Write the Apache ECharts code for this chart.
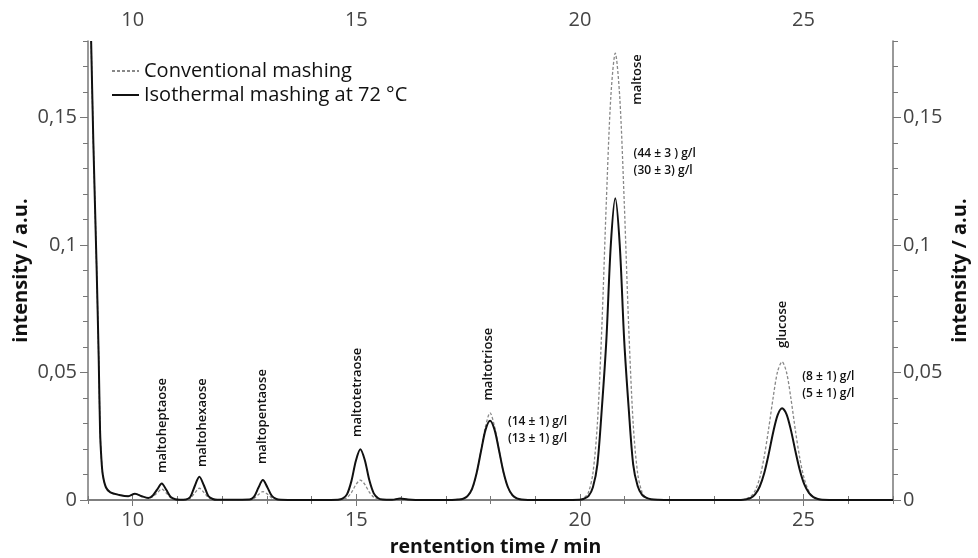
<!DOCTYPE html>
<html>
<head>
<meta charset="utf-8">
<script src="https://cdn.jsdelivr.net/npm/echarts@6/dist/echarts.min.js"></script>
<style>
  html, body { margin: 0; padding: 0; background: #fff; }
  #chart { width: 978px; height: 558px; }
</style>
</head>
<body>
<div id="chart"></div>
<script>
// retention time (min), shared by both traces
const times = [
  9.07, 9.12, 9.19, 9.24, 9.27, 9.30, 9.33, 9.40, 9.50, 9.70, 9.90, 10.05, 10.20, 10.35,
  10.45, 10.55, 10.65, 10.75, 10.85, 10.95, 11.05,
  11.19, 11.29, 11.39, 11.49, 11.59, 11.69, 11.79, 11.89, 12.20,
  12.61, 12.71, 12.81, 12.91, 13.01, 13.11, 13.21, 13.31, 13.70, 14.20,
  14.59, 14.69, 14.79, 14.89, 14.99, 15.09, 15.19, 15.29, 15.39, 15.49, 15.59,
  15.80, 15.98, 16.15, 16.50, 17.00,
  17.29, 17.39, 17.49, 17.59, 17.69, 17.79, 17.89, 17.99, 18.09, 18.19, 18.29, 18.39, 18.49, 18.59, 18.69,
  19.00, 19.60,
  19.99, 20.09, 20.19, 20.29, 20.39, 20.49, 20.59, 20.69, 20.79, 20.89, 20.99, 21.09, 21.19, 21.29, 21.39, 21.49, 21.59,
  21.75, 22.00, 23.00, 23.60,
  23.72, 23.82, 23.92, 24.02, 24.12, 24.22, 24.32, 24.42, 24.52, 24.62, 24.72, 24.82, 24.92, 25.02, 25.12, 25.22, 25.32, 25.42,
  25.80, 27.00
];
const conventional = [
  0.180, 0.140, 0.093, 0.055, 0.027, 0.016, 0.010, 0.005, 0.003, 0.002, 0.0015, 0.0025, 0.0015, 0.0008,
  0.0013, 0.0028, 0.0043, 0.0027, 0.0009, 0.0002, 0.0001,
  0.0001, 0.0007, 0.0028, 0.0046, 0.0030, 0.0010, 0.0003, 0.0001, 0.0001,
  0.0001, 0.0006, 0.0021, 0.0033, 0.0023, 0.0008, 0.0002, 0.0001, 0.0000, 0.0000,
  0.0000, 0.0002, 0.0009, 0.0029, 0.0060, 0.0078, 0.0061, 0.0031, 0.0011, 0.0003, 0.0001,
  0.0001, 0.0006, 0.0002, 0.0000, 0.0000,
  0.0002, 0.0005, 0.0015, 0.0043, 0.0104, 0.0196, 0.0290, 0.0342, 0.0288, 0.0197, 0.0108, 0.0049, 0.0018, 0.0006, 0.0002,
  0.0000, 0.0000,
  0.0002, 0.0008, 0.0030, 0.0105, 0.0300, 0.0680, 0.1170, 0.1580, 0.1752, 0.1580, 0.1170, 0.0680, 0.0300, 0.0105, 0.0030, 0.0008, 0.0002,
  0.0001, 0.0000, 0.0000, 0.0000,
  0.0005, 0.0014, 0.0038, 0.0087, 0.0170, 0.0280, 0.0402, 0.0504, 0.0542, 0.0500, 0.0395, 0.0270, 0.0160, 0.0080, 0.0034, 0.0012, 0.0004, 0.0001,
  0.0000, 0.0000
];
const isothermal = [
  0.180, 0.140, 0.093, 0.055, 0.027, 0.016, 0.010, 0.005, 0.003, 0.002, 0.0015, 0.0025, 0.0015, 0.0008,
  0.0018, 0.0042, 0.0065, 0.0040, 0.0012, 0.0003, 0.0001,
  0.0002, 0.0013, 0.0056, 0.0091, 0.0058, 0.0016, 0.0004, 0.0001, 0.0001,
  0.0002, 0.0012, 0.0048, 0.0078, 0.0050, 0.0016, 0.0004, 0.0001, 0.0000, 0.0000,
  0.0001, 0.0005, 0.0022, 0.0074, 0.0154, 0.0199, 0.0156, 0.0078, 0.0026, 0.0007, 0.0002,
  0.0001, 0.0006, 0.0002, 0.0000, 0.0000,
  0.0002, 0.0005, 0.0016, 0.0045, 0.0106, 0.0193, 0.0276, 0.0311, 0.0276, 0.0195, 0.0110, 0.0050, 0.0019, 0.0006, 0.0002,
  0.0000, 0.0000,
  0.0001, 0.0005, 0.0015, 0.0050, 0.0140, 0.0360, 0.0625, 0.1000, 0.1183, 0.1000, 0.0625, 0.0360, 0.0140, 0.0055, 0.0020, 0.0008, 0.0003,
  0.0001, 0.0000, 0.0000, 0.0000,
  0.0003, 0.0008, 0.0023, 0.0053, 0.0105, 0.0180, 0.0265, 0.0333, 0.0360, 0.0336, 0.0272, 0.0190, 0.0115, 0.0060, 0.0028, 0.0011, 0.0004, 0.0001,
  0.0000, 0.0000
];

const xTickLabels = [10, 15, 20, 25];
const yTickLabels = [0, 0.05, 0.1, 0.15];

// peak names, placed above the peaks (time, lower end of the rotated text)
const peakNames = ['maltoheptaose', 'maltohexaose', 'maltopentaose', 'maltotetraose', 'maltotriose', 'maltose', 'glucose'];
const peakNameTimes = [10.67, 11.56, 12.90, 15.02, 17.94, 21.29, 24.53];
const peakNameLevels = [0.0106, 0.0129, 0.0141, 0.0247, 0.039, 0.155, 0.0596];

// concentrations (conventional / isothermal)
const concTexts = ['(14 ± 1) g/l\n(13 ± 1) g/l', '(44 ± 3 ) g/l\n(30 ± 3) g/l', '(8 ± 1) g/l\n(5 ± 1) g/l'];
const concTimes = [18.39, 21.20, 24.97];
const concLevels = [0.0276, 0.1324, 0.0449];

const font = 'Open Sans';
const axisGrey = '#777';
const labelGrey = '#444';

function pairs(ys) {
  return times.map((t, i) => [t, ys[i]]);
}

function yFmt(v) {
  return v === 0 ? '0' : String(v).replace('.', ',');
}

let chart = echarts.init(document.getElementById('chart'));

const baseX = {
  type: 'value', min: 9, max: 27, interval: 1,
  splitLine: { show: false }
};
const baseY = {
  type: 'value', min: 0, max: 0.18, interval: 0.01,
  splitLine: { show: false }
};
const lineStyle = { color: axisGrey, width: 1.5 };

chart.setOption({
  animation: false,
  backgroundColor: '#fff',
  textStyle: { fontFamily: font },
  grid: { left: 88, right: 85, top: 41, bottom: 58, containLabel: false, outerBoundsMode: 'none' },
  legend: {
    left: 106, top: 56, orient: 'vertical',
    itemWidth: 27, itemHeight: 12, itemGap: 4,
    itemStyle: { opacity: 0 },
    textStyle: { fontSize: 20, color: '#111', fontFamily: font },
    data: ['Conventional mashing', 'Isothermal mashing at 72 °C']
  },
  xAxis: [
    Object.assign({}, baseX, {
      position: 'bottom',
      axisLine: { lineStyle: lineStyle },
      axisTick: { length: 4, lineStyle: { color: axisGrey } },
      axisLabel: { customValues: xTickLabels, fontSize: 20, color: labelGrey, margin: 10 },
      name: 'rentention time / min', nameLocation: 'middle', nameGap: 37,
      nameTextStyle: { fontSize: 19.5, fontWeight: 'bold', color: '#111', padding: [0, 0, 0, 10] }
    }),
    Object.assign({}, baseX, {
      position: 'bottom',
      axisLine: { show: false },
      axisTick: { customValues: xTickLabels, length: 6, lineStyle: { color: axisGrey } },
      axisLabel: { show: false }
    }),
    Object.assign({}, baseX, {
      position: 'top',
      axisLine: { lineStyle: lineStyle },
      axisTick: { length: 4, lineStyle: { color: axisGrey } },
      axisLabel: { customValues: xTickLabels, fontSize: 20, color: labelGrey, margin: 11 }
    }),
    Object.assign({}, baseX, {
      position: 'top',
      axisLine: { show: false },
      axisTick: { customValues: xTickLabels, length: 6, lineStyle: { color: axisGrey } },
      axisLabel: { show: false }
    })
  ],
  yAxis: [
    Object.assign({}, baseY, {
      position: 'left',
      axisLine: { show: true, lineStyle: lineStyle },
      axisTick: { show: true, length: 5, lineStyle: { color: axisGrey } },
      axisLabel: { customValues: yTickLabels, formatter: yFmt, fontSize: 20, color: labelGrey, margin: 11 },
      name: 'intensity / a.u.', nameLocation: 'middle', nameGap: 57, nameMoveOverlap: false,
      nameTextStyle: { fontSize: 20, fontWeight: 'bold', color: '#111' }
    }),
    Object.assign({}, baseY, {
      position: 'left',
      axisLine: { show: false },
      axisTick: { show: true, customValues: yTickLabels, length: 8, lineStyle: { color: axisGrey } },
      axisLabel: { show: false }
    }),
    Object.assign({}, baseY, {
      position: 'right',
      axisLine: { show: true, lineStyle: lineStyle },
      axisTick: { show: true, length: 5, lineStyle: { color: axisGrey } },
      axisLabel: { customValues: yTickLabels, formatter: yFmt, fontSize: 20, color: labelGrey, margin: 10 },
      name: 'intensity / a.u.', nameLocation: 'middle', nameGap: 57, nameRotate: 90, nameMoveOverlap: false,
      nameTextStyle: { fontSize: 20, fontWeight: 'bold', color: '#111' }
    }),
    Object.assign({}, baseY, {
      position: 'right',
      axisLine: { show: false },
      axisTick: { show: true, customValues: yTickLabels, length: 8, lineStyle: { color: axisGrey } },
      axisLabel: { show: false }
    })
  ],
  series: [
    {
      name: 'Conventional mashing', type: 'line',
      data: pairs(conventional),
      showSymbol: false, symbol: 'none', smooth: 0.3,
      lineStyle: { color: '#888', width: 1.3, type: [3, 2] },
      itemStyle: { color: '#888' },
      z: 3
    },
    {
      name: 'Isothermal mashing at 72 °C', type: 'line',
      data: pairs(isothermal),
      showSymbol: false, symbol: 'none', smooth: 0.3,
      lineStyle: { color: '#111', width: 2 },
      itemStyle: { color: '#111' },
      z: 4
    }
  ]
});

// annotations placed through the axes' own scale
const graphics = [];
peakNames.forEach((name, i) => {
  const p = chart.convertToPixel({ xAxisIndex: 0, yAxisIndex: 0 }, [peakNameTimes[i], peakNameLevels[i]]);
  graphics.push({
    type: 'text', x: p[0], y: p[1], rotation: Math.PI / 2,
    style: {
      text: name, fontSize: 13, fontWeight: 600, fontFamily: font, fill: '#111',
      align: 'left', verticalAlign: 'middle'
    }
  });
});
concTexts.forEach((txt, i) => {
  const p = chart.convertToPixel({ xAxisIndex: 0, yAxisIndex: 0 }, [concTimes[i], concLevels[i]]);
  graphics.push({
    type: 'text', x: p[0], y: p[1],
    style: {
      text: txt, fontSize: 12, fontWeight: 600, fontFamily: font, fill: '#111',
      lineHeight: 17, align: 'left', verticalAlign: 'middle'
    }
  });
});
chart.setOption({ graphic: graphics });

window.onresize = function () {
  chart.resize();
};
</script>
</body>
</html>
